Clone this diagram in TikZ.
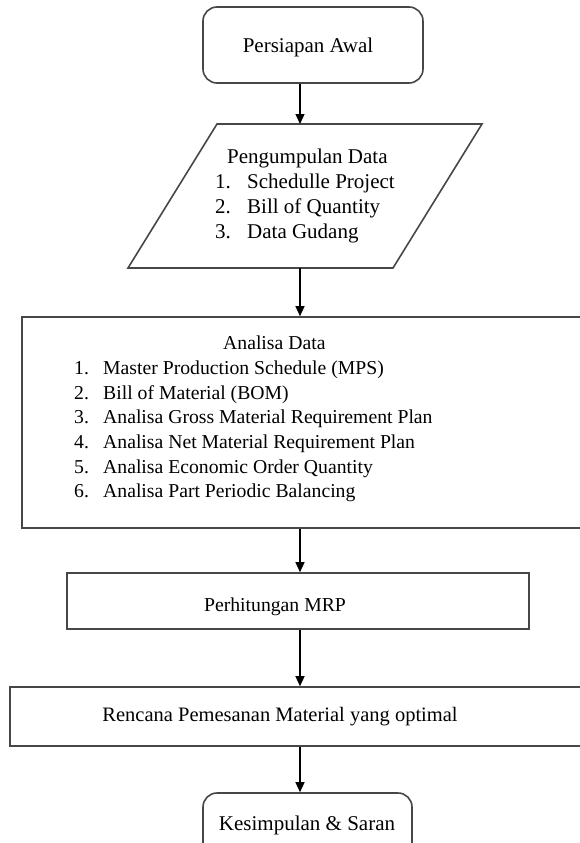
\documentclass[tikz,border=0pt]{standalone}
\usepackage{fontspec}
\setmainfont{Liberation Serif}
\usetikzlibrary{arrows.meta}
\begin{document}
\begin{tikzpicture}[x=1pt,y=-1pt,
  boxline/.style={draw=black!72,line width=1.6pt},
  box/.style={boxline,rectangle,inner sep=0pt,fill=white},
  rbox/.style={box,rounded corners=14pt},
  txt/.style={font=\fontsize{21}{24.7}\selectfont,inner sep=0pt,align=left,text=black},
  stxt/.style={txt,font=\fontsize{19.7}{24.7}\selectfont},
  arr/.style={draw=black,line width=1.3pt,-{Triangle[length=10pt,width=9pt]}}]
\useasboundingbox (0,0) rectangle (580,843);
\clip (0,0) rectangle (580,843);
\fill[white] (0,0) rectangle (580,843);
% Persiapan Awal
\node[rbox,minimum width=220pt,minimum height=76pt] (persiapan) at (313,45) {};
\node[txt] (tpersiapan) at (308,47) {Persiapan Awal};
% Pengumpulan Data (parallelogram)
\draw[boxline,line join=miter] (217,124) -- (482,124) -- (393,268) -- (128,268) -- cycle;
\coordinate (pTop) at (300,124);
\coordinate (pBot) at (300,268);
\node[txt,anchor=west] (peng) at (215,196) {\hspace*{12pt}Pengumpulan Data\\
\makebox[32pt][l]{1.}Schedulle Project\\
\makebox[32pt][l]{2.}Bill of Quantity\\
\makebox[32pt][l]{3.}Data Gudang};
% Analisa Data
\node[box,minimum width=578pt,minimum height=211pt] (analisa) at (311,422.5) {};
\node[stxt,anchor=west] (tanalisa) at (74,419) {\hspace*{149pt}Analisa Data\\
\makebox[29pt][l]{1.}Master Production Schedule (MPS)\\
\makebox[29pt][l]{2.}Bill of Material (BOM)\\
\makebox[29pt][l]{3.}Analisa Gross Material Requirement Plan\\
\makebox[29pt][l]{4.}Analisa Net Material Requirement Plan\\
\makebox[29pt][l]{5.}Analisa Economic Order Quantity\\
\makebox[29pt][l]{6.}Analisa Part Periodic Balancing};
% Perhitungan MRP
\node[box,minimum width=462pt,minimum height=56pt] (mrp) at (298,601) {};
\node[stxt] (tmrp) at (275,607) {Perhitungan MRP};
% Rencana
\node[box,minimum width=590pt,minimum height=59pt] (rencana) at (305,716.5) {};
\node[txt,font=\fontsize{20.5}{24.7}\selectfont] (trencana) at (280,717) {Rencana Pemesanan Material yang optimal};
% Kesimpulan
\node[rbox,minimum width=209pt,minimum height=80pt] (kesimpulan) at (307.5,833) {};
\node[txt] (tkesimpulan) at (307,825) {Kesimpulan \& Saran};
% arrows
\draw[arr] (persiapan.south -| pTop) -- (pTop);
\draw[arr] (pBot) -- (pBot |- analisa.north);
\draw[arr] (pBot |- analisa.south) -- (pBot |- mrp.north);
\draw[arr] (pBot |- mrp.south) -- (pBot |- rencana.north);
\draw[arr] (pBot |- rencana.south) -- (pBot |- kesimpulan.north);
\end{tikzpicture}
\end{document}
